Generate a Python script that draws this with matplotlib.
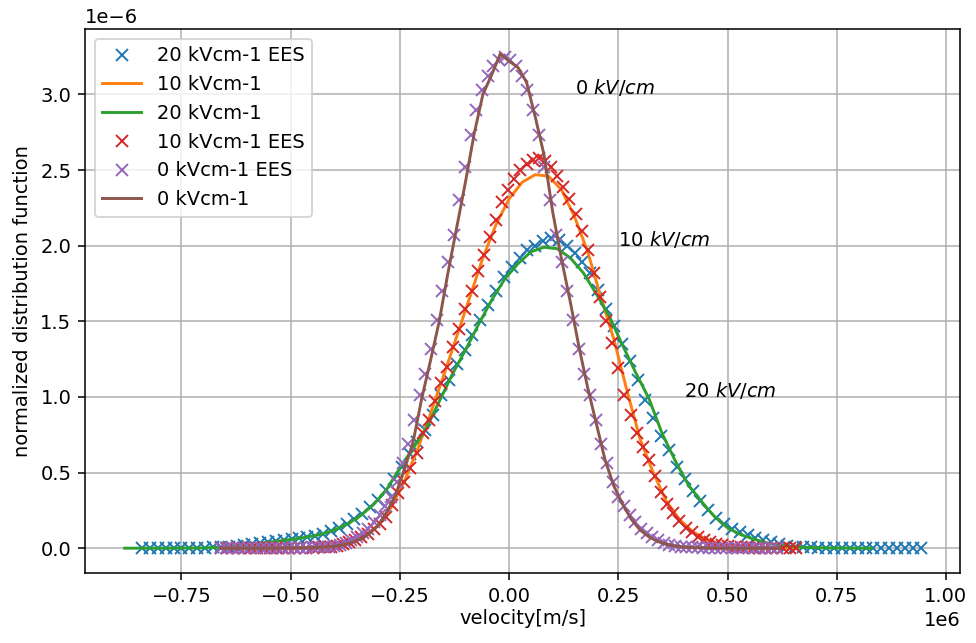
import numpy as np
import matplotlib
matplotlib.use("Agg")
import matplotlib.pyplot as plt

# velocities in 1e6 m/s, distribution values in 1e-6

# 20 kV/cm, EES (markers)
ees20_v = [-0.840, -0.822, -0.804, -0.786, -0.768, -0.750, -0.732, -0.714, -0.696, -0.678,
           -0.660, -0.642, -0.624, -0.606, -0.588, -0.570, -0.552, -0.534, -0.516, -0.498,
           -0.480, -0.462, -0.444, -0.426, -0.408, -0.390, -0.372, -0.354, -0.336, -0.318,
           -0.300, -0.282, -0.264, -0.246, -0.228, -0.210, -0.192, -0.174, -0.156, -0.138,
           -0.120, -0.102, -0.084, -0.066, -0.048, -0.030, -0.012, 0.006, 0.024, 0.042,
           0.060, 0.078, 0.096, 0.114, 0.132, 0.150, 0.168, 0.186, 0.204, 0.222,
           0.240, 0.258, 0.276, 0.294, 0.312, 0.330, 0.348, 0.366, 0.384, 0.402,
           0.420, 0.438, 0.456, 0.474, 0.492, 0.510, 0.528, 0.546, 0.564, 0.582,
           0.600, 0.618, 0.636, 0.654, 0.672, 0.690, 0.708, 0.726, 0.744, 0.762,
           0.780, 0.798, 0.816, 0.834, 0.852, 0.870, 0.888, 0.906, 0.924, 0.942]
ees20_f = [0.000, 0.000, 0.000, 0.000, 0.001, 0.001, 0.001, 0.002, 0.003, 0.005,
           0.007, 0.010, 0.014, 0.019, 0.025, 0.032, 0.040, 0.046, 0.052, 0.060,
           0.068, 0.075, 0.083, 0.095, 0.112, 0.135, 0.160, 0.190, 0.225, 0.270,
           0.320, 0.385, 0.460, 0.540, 0.620, 0.700, 0.780, 0.880, 1.010, 1.110,
           1.220, 1.310, 1.410, 1.510, 1.610, 1.700, 1.790, 1.860, 1.920, 1.970,
           2.000, 2.030, 2.050, 2.040, 2.000, 1.950, 1.890, 1.820, 1.710, 1.580,
           1.470, 1.350, 1.240, 1.110, 0.980, 0.860, 0.740, 0.650, 0.540, 0.460,
           0.380, 0.310, 0.255, 0.200, 0.160, 0.130, 0.110, 0.088, 0.069, 0.052,
           0.039, 0.027, 0.016, 0.011, 0.007, 0.005, 0.003, 0.002, 0.001, 0.001,
           0.001, 0.000, 0.000, 0.000, 0.000, 0.000, 0.000, 0.000, 0.000, 0.000]

# 10 kV/cm model (line)
mod10_v = [-0.66, -0.63, -0.60, -0.57, -0.54, -0.51, -0.48, -0.45, -0.42, -0.39,
           -0.36, -0.33, -0.30, -0.27, -0.24, -0.21, -0.18, -0.15, -0.12, -0.09,
           -0.06, -0.03, 0.00, 0.03, 0.06, 0.09, 0.12, 0.15, 0.18, 0.21,
           0.24, 0.27, 0.30, 0.33, 0.36, 0.39, 0.42, 0.45, 0.48, 0.51,
           0.54, 0.57, 0.60, 0.63, 0.66]
mod10_f = [0.000, 0.000, 0.000, 0.001, 0.001, 0.002, 0.003, 0.004, 0.008, 0.018,
           0.045, 0.085, 0.150, 0.270, 0.440, 0.650, 0.890, 1.140, 1.400, 1.660,
           1.920, 2.140, 2.310, 2.420, 2.470, 2.460, 2.370, 2.190, 1.960, 1.660,
           1.380, 1.040, 0.720, 0.500, 0.310, 0.190, 0.110, 0.060, 0.030, 0.014,
           0.006, 0.003, 0.001, 0.000, 0.000]

# 20 kV/cm model (line)
mod20_v = [-0.88, -0.85, -0.82, -0.79, -0.76, -0.73, -0.70, -0.67, -0.64, -0.61,
           -0.58, -0.55, -0.52, -0.49, -0.46, -0.43, -0.40, -0.37, -0.34, -0.31,
           -0.28, -0.25, -0.22, -0.19, -0.16, -0.13, -0.10, -0.07, -0.04, -0.01,
           0.02, 0.05, 0.08, 0.11, 0.14, 0.17, 0.20, 0.23, 0.26, 0.29,
           0.32, 0.35, 0.38, 0.41, 0.44, 0.47, 0.50, 0.53, 0.56, 0.59,
           0.62, 0.65, 0.68, 0.71, 0.74, 0.77, 0.80, 0.83]
mod20_f = [0.000, 0.000, 0.000, 0.000, 0.001, 0.001, 0.002, 0.005, 0.010, 0.018,
           0.028, 0.040, 0.050, 0.062, 0.075, 0.092, 0.120, 0.160, 0.215, 0.290,
           0.390, 0.530, 0.660, 0.790, 0.970, 1.150, 1.310, 1.480, 1.640, 1.780,
           1.880, 1.960, 1.990, 1.980, 1.920, 1.820, 1.680, 1.530, 1.340, 1.160,
           0.990, 0.760, 0.580, 0.420, 0.310, 0.210, 0.135, 0.090, 0.060, 0.035,
           0.020, 0.010, 0.005, 0.003, 0.001, 0.001, 0.000, 0.000]

# 10 kV/cm, EES (markers)
ees10_v = [-0.660, -0.646, -0.632, -0.618, -0.604, -0.590, -0.576, -0.562, -0.548, -0.534,
           -0.520, -0.506, -0.492, -0.478, -0.464, -0.450, -0.436, -0.422, -0.408, -0.394,
           -0.380, -0.366, -0.352, -0.338, -0.324, -0.310, -0.296, -0.282, -0.268, -0.254,
           -0.240, -0.226, -0.212, -0.198, -0.184, -0.170, -0.156, -0.142, -0.128, -0.114,
           -0.100, -0.086, -0.072, -0.058, -0.044, -0.030, -0.016, -0.002, 0.012, 0.026,
           0.040, 0.054, 0.068, 0.082, 0.096, 0.110, 0.124, 0.138, 0.152, 0.166,
           0.180, 0.194, 0.208, 0.222, 0.236, 0.250, 0.264, 0.278, 0.292, 0.306,
           0.320, 0.334, 0.348, 0.362, 0.376, 0.390, 0.404, 0.418, 0.432, 0.446,
           0.460, 0.474, 0.488, 0.502, 0.516, 0.530, 0.544, 0.558, 0.572, 0.586,
           0.600, 0.614, 0.628, 0.642, 0.656]
ees10_f = [0.000, 0.000, 0.000, 0.000, 0.000, 0.000, 0.001, 0.001, 0.001, 0.001,
           0.001, 0.002, 0.002, 0.002, 0.003, 0.004, 0.005, 0.007, 0.010, 0.016,
           0.026, 0.038, 0.055, 0.072, 0.095, 0.125, 0.160, 0.205, 0.285, 0.365,
           0.440, 0.530, 0.630, 0.760, 0.850, 0.970, 1.090, 1.200, 1.330, 1.450,
           1.580, 1.700, 1.830, 1.940, 2.060, 2.170, 2.290, 2.370, 2.440, 2.500,
           2.540, 2.570, 2.580, 2.560, 2.520, 2.460, 2.390, 2.310, 2.210, 2.100,
           1.970, 1.820, 1.660, 1.500, 1.360, 1.190, 1.010, 0.880, 0.760, 0.670,
           0.580, 0.480, 0.370, 0.290, 0.230, 0.180, 0.135, 0.105, 0.073, 0.055,
           0.040, 0.030, 0.021, 0.015, 0.011, 0.007, 0.005, 0.004, 0.003, 0.002,
           0.001, 0.001, 0.000, 0.000, 0.000]

# 0 kV/cm, EES (markers)
ees0_v = [-0.660, -0.647, -0.634, -0.621, -0.608, -0.595, -0.582, -0.569, -0.556, -0.543,
          -0.530, -0.517, -0.504, -0.491, -0.478, -0.465, -0.452, -0.439, -0.426, -0.413,
          -0.400, -0.387, -0.374, -0.361, -0.348, -0.335, -0.322, -0.309, -0.296, -0.283,
          -0.270, -0.257, -0.244, -0.231, -0.218, -0.205, -0.192, -0.179, -0.166, -0.153,
          -0.140, -0.127, -0.114, -0.101, -0.088, -0.075, -0.062, -0.049, -0.036, -0.023,
          -0.010, 0.003, 0.016, 0.029, 0.042, 0.055, 0.068, 0.081, 0.094, 0.107,
          0.120, 0.133, 0.146, 0.159, 0.172, 0.185, 0.198, 0.211, 0.224, 0.237,
          0.250, 0.263, 0.276, 0.289, 0.302, 0.315, 0.328, 0.341, 0.354, 0.367,
          0.380, 0.393, 0.406, 0.419, 0.432, 0.445, 0.458, 0.471, 0.484, 0.497,
          0.510, 0.523, 0.536, 0.549, 0.562, 0.575, 0.588, 0.601, 0.614]
ees0_f = [0.000, 0.000, 0.000, 0.000, 0.000, 0.000, 0.000, 0.000, 0.000, 0.000,
          0.001, 0.001, 0.001, 0.002, 0.002, 0.003, 0.005, 0.007, 0.009, 0.011,
          0.016, 0.024, 0.035, 0.053, 0.074, 0.100, 0.130, 0.170, 0.220, 0.280,
          0.340, 0.440, 0.560, 0.690, 0.850, 1.010, 1.150, 1.320, 1.510, 1.700,
          1.890, 2.070, 2.300, 2.520, 2.730, 2.900, 3.030, 3.120, 3.190, 3.230,
          3.250, 3.230, 3.190, 3.120, 3.030, 2.900, 2.730, 2.520, 2.300, 2.070,
          1.890, 1.700, 1.510, 1.320, 1.150, 1.010, 0.850, 0.690, 0.560, 0.440,
          0.340, 0.280, 0.220, 0.170, 0.130, 0.100, 0.074, 0.053, 0.035, 0.024,
          0.016, 0.011, 0.009, 0.007, 0.005, 0.004, 0.003, 0.002, 0.002, 0.001,
          0.001, 0.001, 0.000, 0.000, 0.000, 0.000, 0.000, 0.000, 0.000]

# 0 kV/cm model (line)
mod0_v = [-0.66, -0.64, -0.62, -0.60, -0.58, -0.56, -0.54, -0.52, -0.50, -0.48,
          -0.46, -0.44, -0.42, -0.40, -0.38, -0.36, -0.34, -0.32, -0.30, -0.28,
          -0.26, -0.24, -0.22, -0.20, -0.18, -0.16, -0.14, -0.12, -0.10, -0.08,
          -0.06, -0.04, -0.02, 0.00, 0.02, 0.04, 0.06, 0.08, 0.10, 0.12,
          0.14, 0.16, 0.18, 0.20, 0.22, 0.24, 0.26, 0.28, 0.30, 0.32,
          0.34, 0.36, 0.38, 0.40, 0.42, 0.44, 0.46, 0.48, 0.50, 0.52,
          0.54, 0.56, 0.58, 0.60, 0.62]
mod0_f = [0.000, 0.000, 0.000, 0.000, 0.000, 0.000, 0.000, 0.001, 0.001, 0.002,
          0.003, 0.005, 0.008, 0.013, 0.022, 0.038, 0.060, 0.095, 0.150, 0.240,
          0.350, 0.520, 0.700, 0.990, 1.240, 1.500, 1.820, 2.120, 2.420, 2.740,
          3.000, 3.130, 3.270, 3.220, 3.180, 3.080, 2.850, 2.600, 2.220, 1.910,
          1.630, 1.330, 1.060, 0.820, 0.580, 0.410, 0.290, 0.190, 0.120, 0.075,
          0.045, 0.026, 0.014, 0.007, 0.004, 0.002, 0.001, 0.000, 0.000, 0.000,
          0.000, 0.000, 0.000, 0.000, 0.000]


def si(v, f):
    return np.array(v) * 1e6, np.array(f) * 1e-6


fig, ax = plt.subplots(figsize=(976 / 140, 643 / 140), dpi=140)

ax.plot(*si(ees20_v, ees20_f), 'x', label='20 kVcm-1 EES')
ax.plot(*si(mod10_v, mod10_f), label='10 kVcm-1')
ax.plot(*si(mod20_v, mod20_f), label='20 kVcm-1')
ax.plot(*si(ees10_v, ees10_f), 'x', label='10 kVcm-1 EES')
ax.plot(*si(ees0_v, ees0_f), 'x', label='0 kVcm-1 EES')
ax.plot(*si(mod0_v, mod0_f), label='0 kVcm-1')

ax.text(0.15e6, 3.0e-6, '0 $kV/cm$')
ax.text(0.25e6, 2.0e-6, '10 $kV/cm$')
ax.text(0.40e6, 1.0e-6, '20 $kV/cm$')

ax.set_xlabel('velocity[m/s]', labelpad=2)
ax.set_ylabel('normalized distribution function')
ax.grid(True)
ax.legend(loc='upper left')

fig.subplots_adjust(left=0.087, right=0.984, top=0.955, bottom=0.109)
fig.savefig('out.png')
